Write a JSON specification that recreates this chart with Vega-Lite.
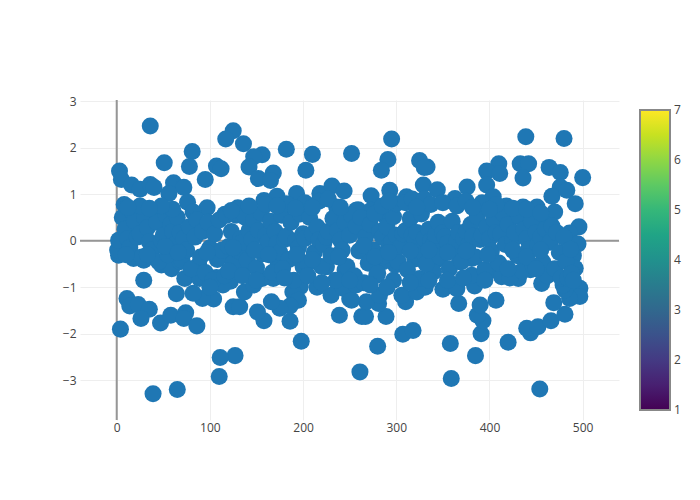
{"$schema":"https://vega.github.io/schema/vega-lite/v6.json","width":539,"height":320,"autosize":"none","padding":{"left":80,"top":100,"right":81,"bottom":80},"background":"white","config":{"font":"Open Sans","view":{"stroke":null}},"layer":[{"data":{"values":[{"x0":0}]},"mark":{"type":"rule","color":"#969696","strokeWidth":2},"encoding":{"x":{"field":"x0","type":"quantitative"}}},{"data":{"values":[{"y0":0}]},"mark":{"type":"rule","color":"#969696","strokeWidth":2},"encoding":{"y":{"field":"y0","type":"quantitative"}}},{"data":{"values":[{"c":1},{"c":7}]},"mark":{"type":"point","opacity":0,"filled":true},"encoding":{"color":{"field":"c","type":"quantitative","scale":{"domain":[1,7],"scheme":"viridis"},"legend":{"orient":"none","legendX":560,"legendY":10,"title":null,"direction":"vertical","gradientLength":300,"gradientThickness":30,"gradientOpacity":1,"gradientStrokeColor":"#888888","gradientStrokeWidth":2,"values":[1,2,3,4,5,6,7],"labelColor":"#444444","labelFontSize":12,"labelFont":"Open Sans","labelOffset":4,"labelOverlap":false,"encode":{"labels":{"update":{"baseline":{"value":"middle"}}}}}}}},{"data":{"values":[
{"x":36,"y":2.47},{"x":125,"y":2.37},{"x":117,"y":2.19},{"x":136,"y":2.09},{"x":81,"y":1.92},{"x":156,"y":1.85},{"x":147,"y":1.81},{"x":182,"y":1.97},{"x":210,"y":1.86},{"x":252,"y":1.88},{"x":51,"y":1.68},{"x":78,"y":1.6},{"x":107,"y":1.61},{"x":112,"y":1.55},{"x":142,"y":1.59},{"x":203,"y":1.52},{"x":168,"y":1.46},{"x":152,"y":1.34},{"x":165,"y":1.3},{"x":95,"y":1.32},{"x":3,"y":1.5},{"x":5,"y":1.32},{"x":16,"y":1.2},{"x":25,"y":1.11},{"x":36,"y":1.21},{"x":40,"y":1.15},{"x":61,"y":1.25},{"x":72,"y":1.15},{"x":56,"y":1.02},{"x":76,"y":0.83},{"x":97,"y":0.71},{"x":82,"y":0.62},{"x":8,"y":0.78},{"x":193,"y":1.02},{"x":218,"y":1.02},{"x":231,"y":1.18},{"x":244,"y":1.07},{"x":158,"y":0.87},{"x":172,"y":0.96},{"x":130,"y":0.71},{"x":116,"y":0.57},{"x":257,"y":0.66},{"x":236,"y":0.73},
{"x":295,"y":2.19},{"x":291,"y":1.75},{"x":284,"y":1.52},{"x":325,"y":1.73},{"x":333,"y":1.59},{"x":330,"y":1.58},{"x":439,"y":2.24},{"x":480,"y":2.2},{"x":410,"y":1.66},{"x":397,"y":1.5},{"x":411,"y":1.45},{"x":433,"y":1.66},{"x":442,"y":1.66},{"x":436,"y":1.35},{"x":464,"y":1.58},{"x":476,"y":1.47},{"x":500,"y":1.36},{"x":293,"y":1.09},{"x":273,"y":0.97},{"x":329,"y":1.2},{"x":344,"y":1.1},{"x":376,"y":1.16},{"x":397,"y":1.2},{"x":363,"y":0.91},{"x":311,"y":0.95},{"x":476,"y":1.16},{"x":467,"y":0.96},{"x":483,"y":1.09},{"x":492,"y":0.8},{"x":470,"y":0.62},{"x":451,"y":0.73},{"x":436,"y":0.73},{"x":418,"y":0.75},{"x":404,"y":0.95},{"x":259,"y":0.67},{"x":273,"y":0.66},{"x":290,"y":0.48},{"x":461,"y":0.34},{"x":496,"y":0.3},{"x":486,"y":0.17},{"x":495,"y":-0.07},{"x":490,"y":-0.32},
{"x":29,"y":-0.85},{"x":64,"y":-1.14},{"x":11,"y":-1.24},{"x":14,"y":-1.4},{"x":23,"y":-1.37},{"x":35,"y":-1.47},{"x":26,"y":-1.67},{"x":4,"y":-1.9},{"x":47,"y":-1.77},{"x":58,"y":-1.6},{"x":74,"y":-1.55},{"x":72,"y":-1.67},{"x":86,"y":-1.83},{"x":198,"y":-2.16},{"x":127,"y":-2.47},{"x":111,"y":-2.51},{"x":110,"y":-2.92},{"x":65,"y":-3.2},{"x":39,"y":-3.29},{"x":239,"y":-1.6},{"x":263,"y":-1.63},{"x":186,"y":-1.73},{"x":158,"y":-1.72},{"x":151,"y":-1.53},{"x":125,"y":-1.42},{"x":132,"y":-1.42},{"x":104,"y":-1.25},{"x":92,"y":-1.24},{"x":82,"y":-1.13},{"x":73,"y":-0.81},{"x":107,"y":-0.79},{"x":122,"y":-0.87},{"x":114,"y":-0.95},{"x":139,"y":-0.54},{"x":173,"y":-0.45},{"x":197,"y":-0.99},{"x":189,"y":-1.1},{"x":195,"y":-1.28},{"x":186,"y":-1.4},{"x":175,"y":-1.45},{"x":166,"y":-1.31},{"x":215,"y":-1.0},{"x":230,"y":-1.17},{"x":250,"y":-1.25},{"x":137,"y":-1.1},{"x":200,"y":-0.56},{"x":225,"y":-0.56},{"x":245,"y":-0.63},{"x":2,"y":-0.31},{"x":1,"y":-0.2},{"x":2,"y":0.01},{"x":18,"y":-0.38},{"x":29,"y":-0.42},{"x":48,"y":-0.52},{"x":59,"y":-0.6},{"x":68,"y":-0.45},{"x":88,"y":-0.52},{"x":118,"y":-0.31},{"x":89,"y":-0.81},{"x":168,"y":-0.81},{"x":147,"y":-0.95},{"x":156,"y":-0.81},{"x":243,"y":-1.02},{"x":258,"y":-0.88},
{"x":261,"y":-2.82},{"x":280,"y":-2.27},{"x":307,"y":-2.01},{"x":318,"y":-1.93},{"x":358,"y":-2.21},{"x":359,"y":-2.96},{"x":385,"y":-2.47},{"x":391,"y":-2.0},{"x":393,"y":-1.72},{"x":387,"y":-1.6},{"x":390,"y":-1.38},{"x":407,"y":-1.28},{"x":420,"y":-2.18},{"x":454,"y":-3.19},{"x":444,"y":-1.98},{"x":440,"y":-1.88},{"x":452,"y":-1.85},{"x":466,"y":-1.72},{"x":481,"y":-1.58},{"x":469,"y":-1.33},{"x":497,"y":-1.02},{"x":497,"y":-1.2},{"x":486,"y":-1.24},{"x":481,"y":-1.06},{"x":267,"y":-1.63},{"x":289,"y":-1.63},{"x":281,"y":-1.35},{"x":268,"y":-1.31},{"x":282,"y":-1.17},{"x":252,"y":-1.28},{"x":310,"y":-1.31},{"x":306,"y":-1.17},{"x":322,"y":-1.1},{"x":331,"y":-1.0},{"x":367,"y":-1.35},{"x":350,"y":-1.04},{"x":365,"y":-1.03},{"x":384,"y":-0.97},{"x":381,"y":-0.74},{"x":404,"y":-0.63},{"x":413,"y":-0.77},{"x":431,"y":-0.81},{"x":444,"y":-0.62},{"x":456,"y":-0.92},{"x":469,"y":-0.67},{"x":479,"y":-0.95},{"x":492,"y":-0.59},{"x":297,"y":-0.85},{"x":257,"y":-0.95},{"x":279,"y":-0.74},{"x":320,"y":-0.39},{"x":299,"y":-0.52},{"x":286,"y":-0.45},{"x":343,"y":-0.41},{"x":368,"y":-0.45},{"x":381,"y":-0.38},{"x":309,"y":-0.06},{"x":340,"y":-0.67},{"x":325,"y":-0.81},
{"x":6,"y":0.5},{"x":9,"y":0.25},{"x":12,"y":0.05},{"x":14,"y":-0.15},{"x":17,"y":0.62},{"x":19,"y":0.42},{"x":22,"y":0.08},{"x":25,"y":0.15},{"x":27,"y":-0.35},{"x":30,"y":0.5},{"x":33,"y":0.28},{"x":35,"y":-0.02},{"x":38,"y":-0.2},{"x":41,"y":0.65},{"x":43,"y":0.4},{"x":45,"y":-0.45},{"x":48,"y":0.0},{"x":50,"y":0.12},{"x":53,"y":0.55},{"x":55,"y":-0.3},{"x":58,"y":0.35},{"x":60,"y":0.2},{"x":62,"y":-0.08},{"x":65,"y":0.5},{"x":68,"y":0.18},{"x":70,"y":-0.42},{"x":72,"y":0.05},{"x":75,"y":-0.2},{"x":78,"y":0.3},{"x":80,"y":-0.6},{"x":84,"y":0.08},{"x":86,"y":0.45},{"x":90,"y":-0.35},{"x":92,"y":0.2},{"x":95,"y":-0.68},{"x":98,"y":0.4},{"x":100,"y":-0.15},{"x":103,"y":-0.85},{"x":105,"y":0.15},{"x":108,"y":-0.4},{"x":110,"y":0.45},{"x":113,"y":-0.2},{"x":116,"y":-0.75},{"x":118,"y":0.55},{"x":120,"y":-0.12},{"x":123,"y":0.2},{"x":125,"y":-0.48},{"x":128,"y":0.55},{"x":131,"y":-0.22},{"x":133,"y":0.05},{"x":135,"y":-0.03},{"x":138,"y":0.5},{"x":140,"y":-0.42},{"x":142,"y":0.22},{"x":145,"y":0.03},{"x":147,"y":0.45},{"x":150,"y":-0.58},{"x":152,"y":0.22},{"x":155,"y":0.6},{"x":157,"y":-0.28},{"x":160,"y":0.12},{"x":162,"y":-0.03},{"x":165,"y":0.42},{"x":167,"y":-0.68},{"x":170,"y":0.2},{"x":172,"y":-0.05},{"x":175,"y":-0.25},{"x":177,"y":0.55},{"x":180,"y":0.03},{"x":182,"y":0.1},{"x":185,"y":-0.4},{"x":187,"y":0.4},{"x":190,"y":-0.85},{"x":192,"y":0.0},{"x":195,"y":-0.15},{"x":197,"y":0.58},{"x":200,"y":0.15},{"x":202,"y":0.05},{"x":205,"y":-0.48},{"x":207,"y":0.5},{"x":210,"y":0.15},{"x":212,"y":-0.25},{"x":215,"y":0.3},{"x":217,"y":0.02},{"x":220,"y":-0.55},{"x":222,"y":-0.08},{"x":225,"y":0.08},{"x":227,"y":0.2},{"x":230,"y":-0.32},{"x":232,"y":0.48},{"x":235,"y":-0.85},{"x":237,"y":0.22},{"x":240,"y":0.02},{"x":242,"y":-0.2},{"x":245,"y":0.4},{"x":247,"y":-0.55},{"x":250,"y":0.12},{"x":252,"y":0.55},{"x":255,"y":-0.75},{"x":257,"y":0.32},{"x":260,"y":-0.22},{"x":262,"y":0.5},{"x":265,"y":-0.9},{"x":267,"y":0.08},{"x":270,"y":-0.48},{"x":272,"y":0.35},{"x":275,"y":-0.2},{"x":277,"y":0.58},{"x":280,"y":-0.7},{"x":282,"y":0.2},{"x":285,"y":0.08},{"x":287,"y":-0.32},{"x":290,"y":0.3},{"x":292,"y":-0.1},{"x":295,"y":-0.03},{"x":297,"y":0.52},{"x":300,"y":0.12},{"x":302,"y":-0.45},{"x":305,"y":-0.12},{"x":307,"y":0.15},{"x":310,"y":0.22},{"x":312,"y":-0.62},{"x":315,"y":0.48},{"x":317,"y":0.12},{"x":320,"y":0.03},{"x":322,"y":0.18},{"x":325,"y":-0.22},{"x":327,"y":0.58},{"x":330,"y":0.05},{"x":332,"y":-0.5},{"x":335,"y":0.25},{"x":337,"y":0.0},{"x":340,"y":-0.08},{"x":342,"y":0.12},{"x":345,"y":0.4},{"x":347,"y":-0.35},{"x":350,"y":0.18},{"x":352,"y":0.08},{"x":355,"y":-0.05},{"x":357,"y":-0.6},{"x":360,"y":0.42},{"x":362,"y":-0.15},{"x":365,"y":0.0},{"x":367,"y":0.18},{"x":370,"y":-0.45},{"x":372,"y":0.05},{"x":375,"y":0.2},{"x":377,"y":-0.1},{"x":380,"y":0.35},{"x":382,"y":0.1},{"x":385,"y":-0.35},{"x":387,"y":0.52},{"x":390,"y":0.03},{"x":392,"y":0.12},{"x":395,"y":-0.62},{"x":397,"y":0.3},{"x":400,"y":0.05},{"x":402,"y":-0.22},{"x":405,"y":0.45},{"x":407,"y":0.18},{"x":410,"y":-0.48},{"x":412,"y":0.15},{"x":415,"y":0.58},{"x":417,"y":-0.08},{"x":420,"y":0.35},{"x":422,"y":-0.8},{"x":425,"y":0.02},{"x":427,"y":0.18},{"x":430,"y":-0.32},{"x":432,"y":0.52},{"x":435,"y":-0.65},{"x":437,"y":0.25},{"x":440,"y":0.05},{"x":442,"y":-0.18},{"x":445,"y":0.42},{"x":447,"y":-0.55},{"x":450,"y":0.18},{"x":452,"y":-0.08},{"x":455,"y":0.08},{"x":457,"y":-0.45},{"x":460,"y":0.25},{"x":462,"y":-0.75},{"x":465,"y":-0.03},{"x":467,"y":0.32},{"x":470,"y":-0.6},{"x":472,"y":0.18},{"x":475,"y":-0.25},{"x":477,"y":-0.8},{"x":480,"y":0.08},{"x":482,"y":-0.45},{"x":484,"y":-0.8},{"x":487,"y":-0.18},{"x":488,"y":-0.7},{"x":490,"y":-0.85},
{"x":10,"y":-0.3},{"x":33,"y":-0.3},{"x":52,"y":-0.12},{"x":66,"y":-0.25},{"x":97,"y":-0.25},{"x":125,"y":-0.15},{"x":148,"y":-0.2},{"x":163,"y":-0.3},{"x":178,"y":-0.6},{"x":193,"y":-0.3},{"x":210,"y":-0.4},{"x":238,"y":-0.35},{"x":265,"y":-0.1},{"x":277,"y":-0.35},{"x":292,"y":-0.25},{"x":315,"y":-0.22},{"x":335,"y":-0.2},{"x":355,"y":-0.25},{"x":375,"y":-0.22},{"x":398,"y":-0.3},{"x":425,"y":-0.2},{"x":440,"y":-0.35},{"x":455,"y":-0.2},
{"x":60,"y":0.68},{"x":48,"y":0.75},{"x":123,"y":0.65},{"x":142,"y":0.75},{"x":160,"y":0.78},{"x":182,"y":0.8},{"x":202,"y":0.82},{"x":217,"y":0.85},{"x":227,"y":0.9},{"x":240,"y":0.72},{"x":285,"y":0.75},{"x":300,"y":0.8},{"x":310,"y":0.82},{"x":317,"y":0.9},{"x":330,"y":0.9},{"x":337,"y":0.78},{"x":350,"y":0.82},{"x":365,"y":0.75},{"x":375,"y":0.85},{"x":392,"y":0.82},{"x":407,"y":0.78},{"x":425,"y":0.7},{"x":440,"y":0.68},{"x":455,"y":0.6},{"x":25,"y":0.75},{"x":12,"y":0.72},{"x":35,"y":0.7},{"x":172,"y":0.75},{"x":192,"y":0.7},{"x":210,"y":0.72},{"x":292,"y":0.85},{"x":322,"y":0.72},{"x":382,"y":0.72},{"x":400,"y":0.68},
{"x":120,"y":-0.65},{"x":135,"y":-0.75},{"x":150,"y":-0.85},{"x":180,"y":-0.8},{"x":205,"y":-0.75},{"x":220,"y":-0.9},{"x":250,"y":-0.85},{"x":272,"y":-0.95},{"x":290,"y":-1.0},{"x":315,"y":-0.9},{"x":335,"y":-0.85},{"x":355,"y":-0.85},{"x":372,"y":-0.8},{"x":395,"y":-0.85},{"x":420,"y":-0.6},{"x":450,"y":-0.6},{"x":100,"y":-1.0}
]},"mark":{"type":"point","filled":true,"opacity":1,"size":290,"shape":"circle","color":"#1f77b4"},"encoding":{"x":{"field":"x","type":"quantitative","scale":{"domain":[-39.4,539],"nice":false,"zero":false},"axis":{"values":[0,100,200,300,400,500],"title":null,"domain":false,"ticks":false,"gridColor":"#eeeeee","gridWidth":1,"labelColor":"#444444","labelFontSize":12,"labelPadding":2,"labelFont":"Open Sans"}},"y":{"field":"y","type":"quantitative","scale":{"domain":[-3.855,3.03],"nice":false,"zero":false},"axis":{"values":[-3,-2,-1,0,1,2,3],"title":null,"domain":false,"ticks":false,"gridColor":"#eeeeee","gridWidth":1,"labelColor":"#444444","labelFontSize":12,"labelPadding":4,"labelFont":"Open Sans","labelExpr":"replace(datum.label,'-','−')"}}}}]}
